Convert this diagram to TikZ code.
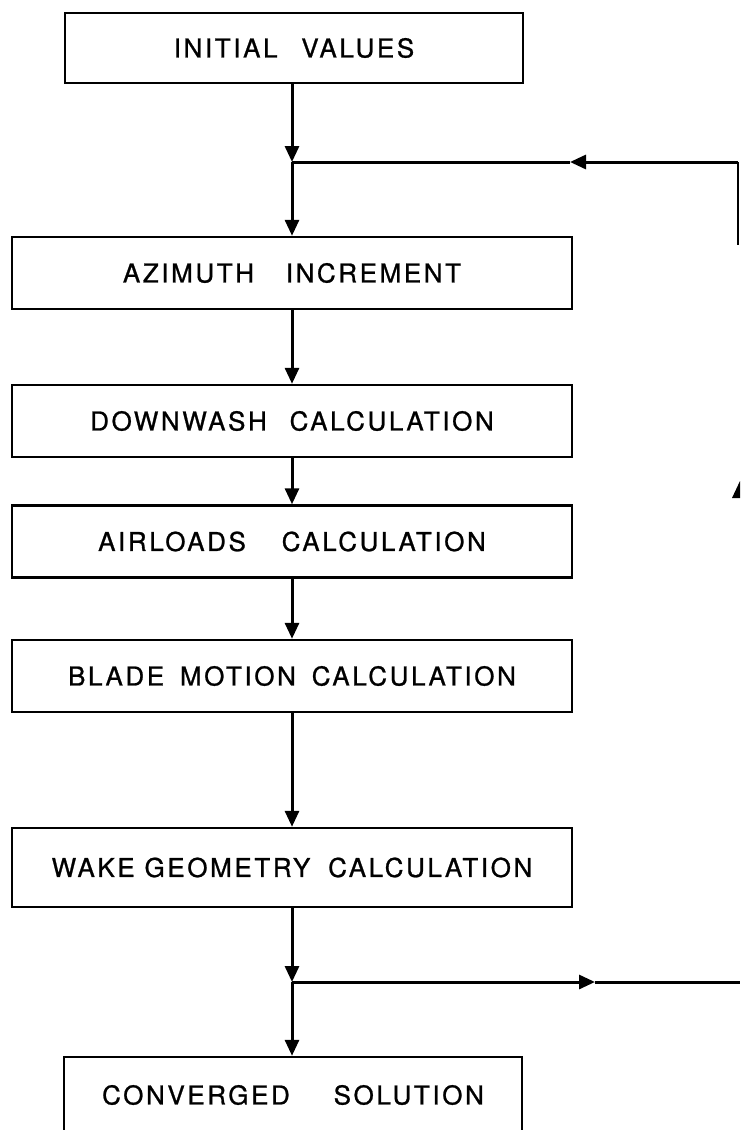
\documentclass[tikz,border=0pt]{standalone}
\usepackage{fontspec}
\newfontfamily\lbl[LetterSpace=10,FakeBold=0.9]{TeX Gyre Heros}
\usetikzlibrary{arrows.meta}
\tikzset{
  box/.style={draw=black, line width=2.4pt, rectangle, inner sep=0pt, anchor=center,
    font=\lbl\fontsize{26}{30}\selectfont, text=black},
  wide/.style={box, minimum width=560pt, minimum height=72pt},
  narrow/.style={box, minimum width=458pt, minimum height=70pt},
  conn/.style={draw=black, line width=3pt},
  arr/.style={conn, -{Triangle[length=16pt,width=14pt]}},
  faint/.style={draw=black, line width=1.2pt}
}
\begin{document}
\begin{tikzpicture}[x=1pt,y=-1pt]
\useasboundingbox (0,0) rectangle (740,1130);
\node[narrow] (ini) at (294,48) {INITIAL \hspace{14pt}VALUES};
\node[wide] (az) at (292,273) {AZIMUTH \hspace{22pt}INCREMENT};
\node[wide] (dw) at (292,421) {DOWNWASH \hspace{13pt}CALCULATION};
\node[wide] (al) at (292,541.5) {AIRLOADS \hspace{26pt}CALCULATION};
\node[wide] (bm) at (292,676) {BLADE \hspace{6pt}MOTION \hspace{6pt}CALCULATION};
\node[wide, minimum height=79pt] (wg) at (292,867.5) {WAKE GEOMETRY \hspace{8pt}CALCULATION};
\node[narrow, minimum height=76pt] (cs) at (293,1095) {CONVERGED \hspace{34pt}SOLUTION};
% junctions and feedback points
\coordinate (j1) at (292,162);
\coordinate (j2) at (292,982);
\coordinate (r1) at (738,162);
\coordinate (r1b) at (738,245);
\coordinate (m1) at (570,162);
\coordinate (r2) at (740,982);
\coordinate (m2) at (595,982);
% main flow
\draw[arr] (ini.south -| j1) -- (j1);
\draw[arr] (j1) -- (az.north);
\draw[arr] (az.south) -- (dw.north);
\draw[arr] (dw.south) -- (al.north);
\draw[arr] (al.south) -- (bm.north);
\draw[arr] (bm.south) -- (wg.north);
\draw[arr] (wg.south) -- (j2);
\draw[arr] (j2) -- (cs.north -| j2);
% feedback loop lines
\draw[arr] (r1) -- (m1);
\draw[conn] (m1) -- (j1);
\draw[faint] (r1) -- (r1b);
\draw[arr] (j2) -- (m2);
\draw[conn] (m2) -- (r2);
% cropped arrowhead fragment at right edge
\fill[black] (732,498) -- (740,481) -- (740,498) -- cycle;
\end{tikzpicture}
\end{document}
